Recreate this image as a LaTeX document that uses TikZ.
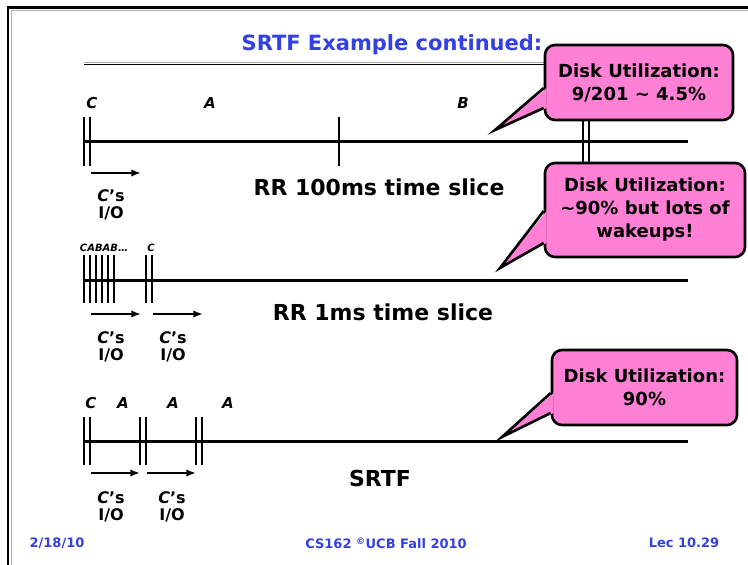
\documentclass[tikz,border=0pt]{standalone}
\usepackage{fontspec}
\setmainfont{DejaVu Sans}
\usepackage{xcolor}
\usepackage{tikz}
\usetikzlibrary{arrows.meta,positioning,calc}
\definecolor{slideblue}{RGB}{52,64,228}
\definecolor{notepink}{RGB}{255,128,212}

\begin{document}
\begin{tikzpicture}[
  x=1pt, y=-1pt,
  timeline/.style={line width=3pt},
  tickmark/.style={line width=2.6pt},
  ioarrow/.style={-{Latex[length=3.4mm,width=2.6mm]}, line width=2.2pt},
  runlbl/.style={font=\fontsize{15}{17}\selectfont\bfseries\itshape},
  iolbl/.style={align=center, font=\fontsize{16}{17}\selectfont\bfseries},
  slicelbl/.style={font=\fontsize{22}{26}\selectfont\bfseries},
  callbox/.style={draw, line width=2.6pt, rounded corners=10pt, fill=notepink, align=center, inner sep=0pt, font=\fontsize{18}{23}\selectfont\bfseries},
  tailedge/.style={line width=2.6pt, line join=miter},
  footlbl/.style={text=slideblue, font=\fontsize{13}{15}\selectfont\bfseries}
]
\useasboundingbox (0,0) rectangle (748,565);

% slide frame and title
\draw[line width=2.8pt] (8,565) -- (8,7.5) -- (748,7.5);
\draw[gray!60, line width=1pt] (11.5,565) -- (11.5,10.5) -- (748,10.5);
\node[text=slideblue, font=\fontsize{21}{24}\selectfont\bfseries] (title) at (392,45) {SRTF Example continued:};
\draw[gray!70, line width=1pt] (84,62) -- (550,62);
\draw[line width=1.4pt] (84,64.5) -- (550,64.5);

% RR 100ms
\coordinate (t1s) at (83,141);
\coordinate (t1e) at (688,141);
\draw[timeline] (t1s) -- (t1e);
\draw[tickmark] (84,117) -- (84,166);
\draw[tickmark] (90,117) -- (90,166);
\draw[tickmark] (339,117) -- (339,166);
\draw[tickmark] (583,112) -- (583,170);
\draw[tickmark] (589,112) -- (589,170);
\node[runlbl] (c1) at (92,103) {C};
\node[runlbl] (a1) at (210,103) {A};
\node[runlbl] (b1) at (463,103) {B};
\coordinate (io1s) at (91,173);
\coordinate (io1e) at (141,173);
\draw[ioarrow] (io1s) -- (io1e);
\node[iolbl] (io1) at (111,205) {\textit{C}'s\\I/O};
\node[slicelbl] (rr100) at (379,187) {RR 100ms time slice};

% RR 1ms
\coordinate (t2s) at (83,280);
\coordinate (t2e) at (688,280);
\draw[timeline] (t2s) -- (t2e);
\draw[tickmark] (84,255) -- (84,303);
\draw[tickmark] (90,255) -- (90,303);
\draw[tickmark] (96,255) -- (96,303);
\draw[tickmark] (102,255) -- (102,303);
\draw[tickmark] (108,255) -- (108,303);
\draw[tickmark] (114,255) -- (114,303);
\draw[tickmark] (146,255) -- (146,303);
\draw[tickmark] (152,255) -- (152,303);
\node[font=\fontsize{10}{12}\selectfont\bfseries\itshape] (cabab) at (104,248) {CABAB…};
\node[font=\fontsize{10}{12}\selectfont\bfseries\itshape] (c2) at (151,248) {C};
\coordinate (io2s) at (91,314);
\coordinate (io2e) at (141,314);
\coordinate (io3s) at (153,314);
\coordinate (io3e) at (203,314);
\draw[ioarrow] (io2s) -- (io2e);
\draw[ioarrow] (io3s) -- (io3e);
\node[iolbl] (io2) at (111,347) {\textit{C}'s\\I/O};
\node[iolbl] (io3) at (173,347) {\textit{C}'s\\I/O};
\node[slicelbl] (rr1) at (383,312) {RR 1ms time slice};

% SRTF
\coordinate (t3s) at (83,441);
\coordinate (t3e) at (688,441);
\draw[timeline] (t3s) -- (t3e);
\draw[tickmark] (84,417) -- (84,465);
\draw[tickmark] (90,417) -- (90,465);
\draw[tickmark] (140,417) -- (140,465);
\draw[tickmark] (146,417) -- (146,465);
\draw[tickmark] (196,417) -- (196,465);
\draw[tickmark] (202,417) -- (202,465);
\node[runlbl] (c3) at (91,403) {C};
\node[runlbl] (a3) at (123,403) {A};
\node[runlbl] (a4) at (173,403) {A};
\node[runlbl] (a5) at (228,403) {A};
\coordinate (io4s) at (91,473);
\coordinate (io4e) at (140,473);
\coordinate (io5s) at (147,473);
\coordinate (io5e) at (196,473);
\draw[ioarrow] (io4s) -- (io4e);
\draw[ioarrow] (io5s) -- (io5e);
\node[iolbl] (io4) at (111,507) {\textit{C}'s\\I/O};
\node[iolbl] (io5) at (172,507) {\textit{C}'s\\I/O};
\node[slicelbl] (srtf) at (380,478) {SRTF};

% callouts
\node[callbox, minimum width=188pt, minimum height=75pt] (diskA) at (639,82.5) {Disk Utilization:\\9/201 \textasciitilde{} 4.5\%};
\coordinate (tipA) at (495,130);
\fill[notepink] ($(diskA.west)+(3,5.5)$) -- (tipA) -- ($(diskA.west)+(3,25.5)$) -- cycle;
\draw[tailedge] ($(diskA.west)+(0,5.5)$) -- (tipA) -- ($(diskA.west)+(0,25.5)$);

\node[callbox, minimum width=200pt, minimum height=94pt] (diskB) at (645,210) {Disk Utilization:\\\textasciitilde90\% but lots of\\wakeups!};
\coordinate (tipB) at (500,268);
\fill[notepink] ($(diskB.west)+(3,1)$) -- (tipB) -- ($(diskB.west)+(3,33)$) -- cycle;
\draw[tailedge] ($(diskB.west)+(0,1)$) -- (tipB) -- ($(diskB.west)+(0,33)$);

\node[callbox, minimum width=185pt, minimum height=75pt] (diskC) at (644.5,387.5) {Disk Utilization:\\90\%};
\coordinate (tipC) at (502,437);
\fill[notepink] ($(diskC.west)+(3,5.5)$) -- (tipC) -- ($(diskC.west)+(3,25.5)$) -- cycle;
\draw[tailedge] ($(diskC.west)+(0,5.5)$) -- (tipC) -- ($(diskC.west)+(0,25.5)$);

% footer
\node[footlbl] (date) at (57,543) {2/18/10};
\node[footlbl] (course) at (386,543) {CS162 \textsuperscript{©}UCB Fall 2010};
\node[footlbl] (lec) at (684,543) {Lec 10.29};
\end{tikzpicture}
\end{document}
